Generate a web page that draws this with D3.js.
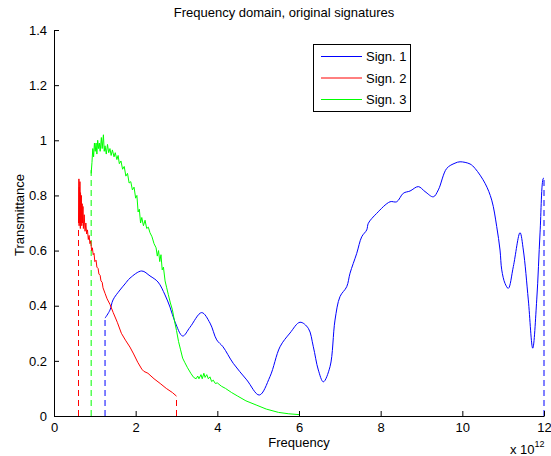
<!DOCTYPE html>
<html>
<head>
<meta charset="utf-8">
<script src="https://cdn.jsdelivr.net/npm/d3@7"></script>
<style>
  body { margin: 0; background: #fff; }
  svg { font-family: "Liberation Sans", Arial, sans-serif; }
  .axis text { font-size: 13px; fill: #000; }
  .axis path, .axis line { stroke: #000; }
</style>
</head>
<body>
<div id="chart"></div>
<script>
// frequencies in units of 1e12 (axis shows "x 10^12")
var xTicks = [0, 2, 4, 6, 8, 10, 12];
var yTicks = [0, 0.2, 0.4, 0.6, 0.8, 1, 1.2, 1.4];
var seriesNames = ["Sign. 1", "Sign. 2", "Sign. 3"];

var sign1 = [
  [1.25, 0.355], [1.37, 0.384], [1.445, 0.421], [1.616, 0.457], [1.739, 0.479],
  [1.861, 0.50], [2.148, 0.526], [2.351, 0.508], [2.547, 0.486], [2.719, 0.439],
  [2.841, 0.395], [2.964, 0.341], [3.152, 0.29], [3.331, 0.322], [3.617, 0.375],
  [3.821, 0.337], [3.985, 0.276], [4.139, 0.251], [4.39, 0.191], [4.72, 0.131],
  [5.028, 0.076], [5.29, 0.143], [5.535, 0.251], [5.78, 0.301], [6.025, 0.34],
  [6.228, 0.318], [6.351, 0.251], [6.473, 0.167], [6.596, 0.124], [6.76, 0.179],
  [6.882, 0.348], [7.004, 0.433], [7.169, 0.469], [7.25, 0.518], [7.414, 0.59],
  [7.536, 0.65], [7.659, 0.675], [7.698, 0.699], [7.903, 0.735], [8.229, 0.777],
  [8.393, 0.777], [8.555, 0.808], [8.719, 0.816], [8.922, 0.832], [9.086, 0.814],
  [9.29, 0.795], [9.412, 0.82], [9.618, 0.898], [9.821, 0.917], [9.944, 0.922],
  [10.189, 0.914], [10.311, 0.898], [10.556, 0.844], [10.72, 0.783], [10.842, 0.687],
  [10.923, 0.602], [10.965, 0.53], [11.045, 0.481], [11.126, 0.463], [11.249, 0.542],
  [11.413, 0.665], [11.494, 0.602], [11.616, 0.421], [11.724, 0.246], [11.822, 0.421],
  [11.903, 0.664], [11.984, 0.862], [12.0, 0.862]
];

var sign2 = [
  [0.60, 0.70], [0.61, 0.86], [0.615, 0.69], [0.62, 0.83], [0.63, 0.70], [0.635, 0.85],
  [0.645, 0.68], [0.65, 0.81], [0.66, 0.70], [0.67, 0.80], [0.68, 0.69], [0.69, 0.77],
  [0.70, 0.70], [0.71, 0.76], [0.72, 0.68], [0.74, 0.73], [0.76, 0.67], [0.78, 0.70],
  [0.80, 0.66], [0.82, 0.675], [0.84, 0.64], [0.86, 0.655], [0.88, 0.625], [0.90, 0.635],
  [0.92, 0.60], [0.94, 0.61], [0.96, 0.585], [0.98, 0.59], [1.00, 0.56], [1.03, 0.565],
  [1.05, 0.54], [1.08, 0.535], [1.10, 0.515], [1.13, 0.51], [1.15, 0.49], [1.18, 0.485],
  [1.20, 0.465], [1.25, 0.445], [1.30, 0.425], [1.37, 0.405], [1.45, 0.375], [1.55, 0.34],
  [1.65, 0.30], [1.75, 0.275], [1.86, 0.25], [1.95, 0.225], [2.05, 0.195], [2.15, 0.17],
  [2.2, 0.162], [2.3, 0.155], [2.45, 0.135], [2.6, 0.118], [2.75, 0.10], [2.9, 0.085],
  [3.0, 0.072]
];

var sign3 = [
  [0.91, 0.88], [0.93, 0.92], [0.95, 0.97], [0.97, 0.94], [0.99, 0.99], [1.01, 0.96],
  [1.03, 0.99], [1.05, 0.95], [1.07, 1.00], [1.09, 0.97], [1.11, 0.99], [1.13, 0.96],
  [1.16, 1.01], [1.18, 0.97], [1.21, 1.02], [1.23, 0.96], [1.25, 0.98], [1.28, 0.95],
  [1.31, 0.985], [1.34, 0.955], [1.37, 0.97], [1.40, 0.945], [1.43, 0.965], [1.47, 0.94],
  [1.50, 0.955], [1.54, 0.93], [1.57, 0.945], [1.60, 0.915], [1.64, 0.925], [1.68, 0.895],
  [1.72, 0.905], [1.76, 0.87], [1.80, 0.88], [1.84, 0.845], [1.88, 0.85], [1.92, 0.82],
  [1.96, 0.83], [2.00, 0.79], [2.03, 0.80], [2.06, 0.74], [2.09, 0.75], [2.12, 0.70],
  [2.15, 0.72], [2.19, 0.69], [2.23, 0.71], [2.27, 0.68], [2.31, 0.685], [2.35, 0.665],
  [2.40, 0.65], [2.45, 0.625], [2.50, 0.61], [2.53, 0.58], [2.56, 0.60], [2.59, 0.56],
  [2.62, 0.585], [2.65, 0.53], [2.68, 0.54], [2.72, 0.49], [2.76, 0.465], [2.80, 0.44],
  [2.85, 0.41], [2.90, 0.385], [2.95, 0.345], [3.00, 0.31], [3.05, 0.27], [3.10, 0.24],
  [3.15, 0.21], [3.20, 0.195], [3.27, 0.175], [3.35, 0.155], [3.42, 0.14], [3.48, 0.135],
  [3.52, 0.145], [3.55, 0.135], [3.60, 0.15], [3.63, 0.135], [3.67, 0.155], [3.70, 0.14],
  [3.74, 0.15], [3.78, 0.135], [3.82, 0.142], [3.86, 0.125], [3.90, 0.13], [3.95, 0.118],
  [4.0, 0.12], [4.1, 0.108], [4.2, 0.10], [4.35, 0.085], [4.5, 0.072], [4.7, 0.055],
  [4.95, 0.04], [5.2, 0.025], [5.5, 0.013], [5.75, 0.008], [6.0, 0.005]
];

// dashed drop lines at the ends of each signature: [series index, freq, top]
var stems = [
  [0, 1.25, 0.355], [0, 12.0, 0.862],
  [1, 0.60, 0.68], [1, 3.0, 0.072],
  [2, 0.91, 0.90]
];

var colors = ["#0000ff", "#ff0000", "#00ff00"];

var svgWidth = 551;
var svgHeight = 456;
var margin = { top: 30, right: 7, bottom: 40, left: 54 };
var width = svgWidth - margin.left - margin.right;
var height = svgHeight - margin.top - margin.bottom;

var svg = d3.select("#chart")
  .append("svg")
  .attr("width", svgWidth)
  .attr("height", svgHeight);

var chartGroup = svg.append("g")
  .attr("transform", `translate(${margin.left}, ${margin.top})`);

var x = d3.scaleLinear().domain([0, 12]).range([0, width]);
var y = d3.scaleLinear().domain([0, 1.4]).range([height, 0]);

// blue one is a smooth measured curve, the others are noisy so keep them straight
var smoothLine = d3.line()
  .curve(d3.curveCatmullRom.alpha(0.5))
  .x(d => x(d[0]))
  .y(d => y(d[1]));

var line = d3.line()
  .x(d => x(d[0]))
  .y(d => y(d[1]));

// stems first so the curves sit on top
chartGroup.selectAll(".stem")
  .data(stems)
  .enter()
  .append("line")
  .attr("class", "stem")
  .attr("x1", d => x(d[1]))
  .attr("x2", d => x(d[1]))
  .attr("y1", y(0))
  .attr("y2", d => y(d[2]))
  .attr("stroke", d => colors[d[0]])
  .attr("stroke-width", 1)
  .attr("stroke-dasharray", "6,4");

[sign1, sign2, sign3].forEach(function(data, i) {
  chartGroup.append("path")
    .datum(data)
    .attr("fill", "none")
    .attr("stroke", colors[i])
    .attr("stroke-width", 1)
    .attr("stroke-linejoin", "round")
    .attr("d", i === 0 ? smoothLine : line);
});

// axes, ticks pointing inward like MATLAB
var fmt = d3.format("~g");
chartGroup.append("g")
  .attr("class", "axis")
  .attr("transform", `translate(0, ${height})`)
  .call(d3.axisBottom(x).tickValues(xTicks).tickFormat(fmt)
    .tickSizeInner(-5).tickSizeOuter(0).tickPadding(7));

chartGroup.append("g")
  .attr("class", "axis")
  .call(d3.axisLeft(y).tickValues(yTicks).tickFormat(fmt)
    .tickSizeInner(-5).tickSizeOuter(0).tickPadding(7));

chartGroup.selectAll(".axis .domain").attr("stroke-width", 1);

// title and labels
svg.append("text")
  .attr("x", 284)
  .attr("y", 17)
  .attr("text-anchor", "middle")
  .style("font-size", "13px")
  .text("Frequency domain, original signatures");

svg.append("text")
  .attr("x", margin.left + width / 2)
  .attr("y", 447)
  .attr("text-anchor", "middle")
  .style("font-size", "13px")
  .text("Frequency");

svg.append("text")
  .attr("transform", "rotate(-90)")
  .attr("x", -(margin.top + height / 2) + 8)
  .attr("y", 24)
  .attr("text-anchor", "middle")
  .style("font-size", "13px")
  .text("Transmittance");

var mult = svg.append("text")
  .attr("x", 510)
  .attr("y", 454)
  .style("font-size", "13px");
mult.append("tspan").text("x 10");
mult.append("tspan")
  .attr("dy", -7)
  .style("font-size", "9px")
  .text("12");

// legend
var legend = svg.append("g")
  .attr("transform", "translate(313, 44)");

legend.append("rect")
  .attr("x", 0.5)
  .attr("y", 0.5)
  .attr("width", 97)
  .attr("height", 67)
  .attr("fill", "#fff")
  .attr("stroke", "#000");

var rows = legend.selectAll(".row")
  .data(seriesNames)
  .enter()
  .append("g")
  .attr("class", "row")
  .attr("transform", (d, i) => `translate(0, ${12.5 + i * 21.5})`);

rows.append("line")
  .attr("x1", 8)
  .attr("x2", 49)
  .attr("stroke", (d, i) => colors[i])
  .attr("stroke-width", 1);

rows.append("text")
  .attr("x", 53)
  .attr("y", 4.5)
  .style("font-size", "13px")
  .text(d => d);
</script>
</body>
</html>
